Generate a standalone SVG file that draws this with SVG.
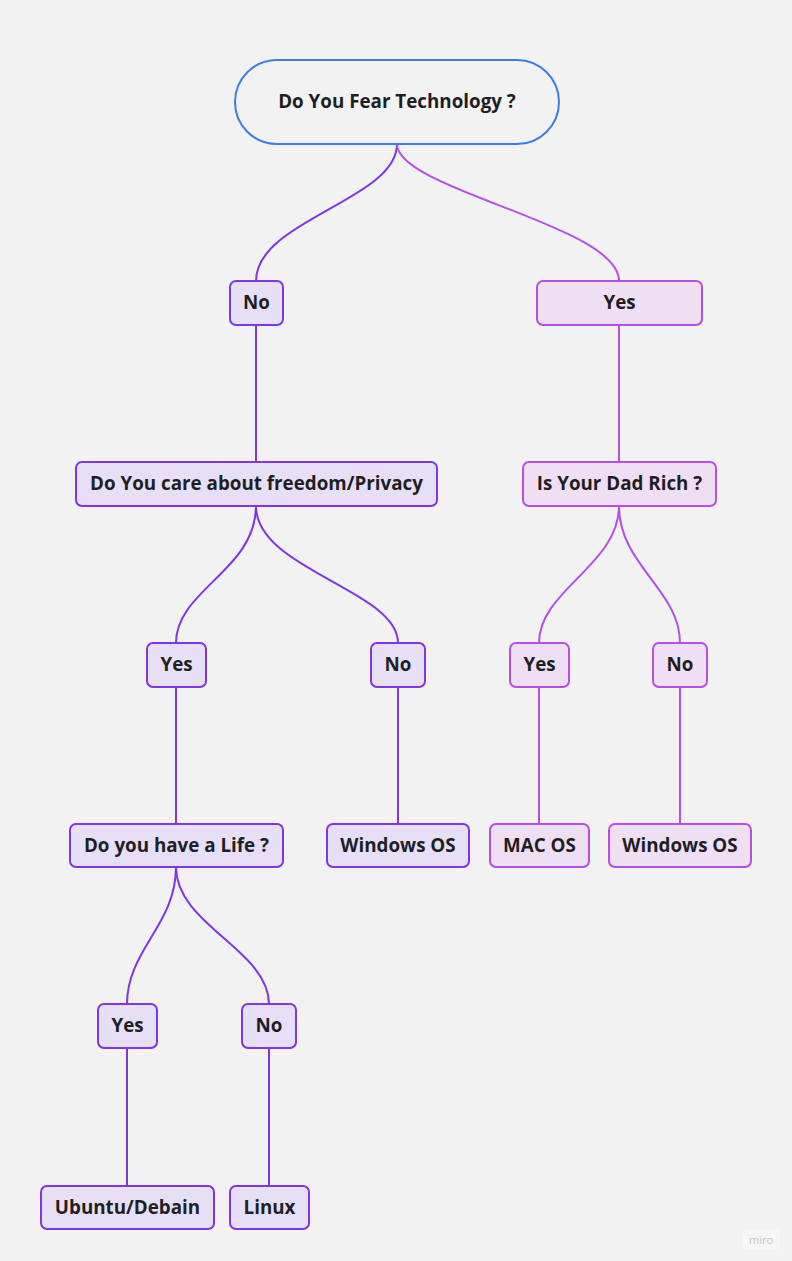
<svg xmlns="http://www.w3.org/2000/svg" width="792" height="1261" viewBox="0 0 792 1261">
<style>
.bg{fill:#f2f2f2}
.root{fill:#f2f2f2;stroke:#3c7ee4;stroke-width:2}
.nl{fill:#e6dff6;stroke:#7e36e8;stroke-width:2}
.nr{fill:#eedff3;stroke:#b74deb;stroke-width:2}
.cl{fill:none;stroke:#7e36e8;stroke-width:2}
.cr{fill:none;stroke:#b74deb;stroke-width:2}
text{font-family:"Open Sans","Noto Sans","Liberation Sans",sans-serif;font-weight:700;font-size:18.8px;fill:#1f1f23;text-anchor:middle;dominant-baseline:central}
</style>
<rect class="bg" x="0" y="0" width="792" height="1261"/>
<g id="connectors">
<path class="cl" d="M397,144 C397,200 256,220 256,281"/>
<path class="cr" d="M397,144 C397,190 619,225 619,281"/>
<path class="cl" d="M256,325 V462"/>
<path class="cr" d="M619,325 V462"/>
<path class="cl" d="M256,506 C256,570 176,590 176,643"/>
<path class="cl" d="M256,506 C256,570 398,590 398,643"/>
<path class="cr" d="M619,506 C619,565 539,590 539,643"/>
<path class="cr" d="M619,506 C619,565 680,590 680,643"/>
<path class="cl" d="M176,687 V824"/>
<path class="cl" d="M398,687 V824"/>
<path class="cr" d="M539,687 V824"/>
<path class="cr" d="M680,687 V824"/>
<path class="cl" d="M176,867 C176,925 127,950 127,1004"/>
<path class="cl" d="M176,867 C176,925 269,950 269,1004"/>
<path class="cl" d="M127,1048 V1186"/>
<path class="cl" d="M269,1048 V1186"/>
</g>
<g id="n-root"><rect class="root" x="235" y="60" width="324" height="84" rx="42"/><text x="397" y="101">Do You Fear Technology ?</text></g>
<g id="n-no1"><rect class="nl" x="230" y="281" width="53" height="44" rx="6"/><text x="256.5" y="302">No</text></g>
<g id="n-yes1"><rect class="nr" x="537" y="281" width="165" height="44" rx="6"/><text x="619.5" y="302">Yes</text></g>
<g id="n-privacy"><rect class="nl" x="76" y="462" width="361" height="44" rx="6"/><text x="256.5" y="483">Do You care about freedom/Privacy</text></g>
<g id="n-dad"><rect class="nr" x="523" y="462" width="193" height="44" rx="6"/><text x="619.5" y="483">Is Your Dad Rich ?</text></g>
<g id="n-yes2"><rect class="nl" x="147" y="643" width="59" height="44" rx="6"/><text x="176.5" y="664">Yes</text></g>
<g id="n-no2"><rect class="nl" x="371" y="643" width="54" height="44" rx="6"/><text x="398" y="664">No</text></g>
<g id="n-yes3"><rect class="nr" x="510" y="643" width="59" height="44" rx="6"/><text x="539.5" y="664">Yes</text></g>
<g id="n-no3"><rect class="nr" x="653" y="643" width="54" height="44" rx="6"/><text x="680" y="664">No</text></g>
<g id="n-life"><rect class="nl" x="70" y="824" width="213" height="43" rx="6"/><text x="176.5" y="844.5">Do you have a Life ?</text></g>
<g id="n-win1"><rect class="nl" x="327" y="824" width="142" height="43" rx="6"/><text x="398" y="844.5">Windows OS</text></g>
<g id="n-mac"><rect class="nr" x="490" y="824" width="99" height="43" rx="6"/><text x="539.5" y="844.5">MAC OS</text></g>
<g id="n-win2"><rect class="nr" x="609" y="824" width="142" height="43" rx="6"/><text x="680" y="844.5">Windows OS</text></g>
<g id="n-yes4"><rect class="nl" x="98" y="1004" width="59" height="44" rx="6"/><text x="127.5" y="1025">Yes</text></g>
<g id="n-no4"><rect class="nl" x="242" y="1004" width="54" height="44" rx="6"/><text x="269" y="1025">No</text></g>
<g id="n-ubuntu"><rect class="nl" x="41" y="1186" width="173" height="43" rx="6"/><text x="127.5" y="1206.5">Ubuntu/Debain</text></g>
<g id="n-linux"><rect class="nl" x="230" y="1186" width="79" height="43" rx="6"/><text x="269.5" y="1206.5">Linux</text></g>
<g id="watermark"><rect x="743" y="1229" width="37" height="20" fill="#f6f6f6"/><text x="761" y="1239" style="font-size:11px;font-weight:400;fill:#c4c4c4">miro</text></g>
</svg>
